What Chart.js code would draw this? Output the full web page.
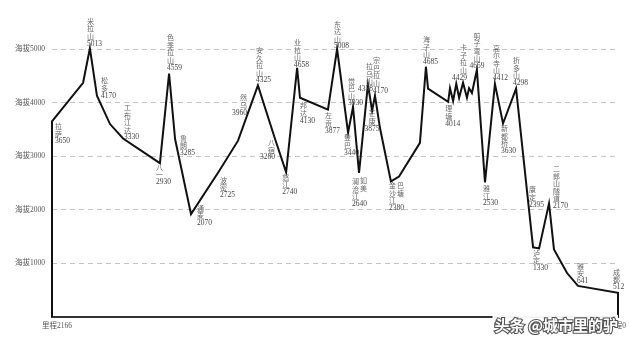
<!DOCTYPE html>
<html>
<head>
<meta charset="utf-8">
<script src="https://cdn.jsdelivr.net/npm/chart.js@4"></script>
<style>
html,body{margin:0;background:#fff}
#wrap{width:630px;height:343px}
</style>
</head>
<body>
<div id="wrap"><canvas id="c"></canvas></div>
<script>
// 318 profile, Lhasa (mileage 2166) -> Chengdu (0)
const mileage = [2166,2166,2047,2021,1994,1944,1894,1753,1718,1695,1634,1527,1454,1378,1313,1270,1228,1217,1110,1075,
  1033,1014,991,957,941,930,911,869,838,758,735,727,650,643,631,619,608,593,578,570,
  559,540,509,471,440,390,348,325,302,264,245,195,153,0,0];
const altitude = [0,3650,4370,5013,4130,3600,3330,2870,4540,3320,1920,2720,3290,4320,3330,2700,4650,4090,3870,5000,
  3440,3920,2690,4340,3850,4130,3530,2530,2620,3250,4670,4260,4015,4270,4030,4350,4090,4370,4090,4270,
  4180,4610,2510,4350,3610,4260,2340,1300,1280,2120,1260,820,580,450,0];

const yTicks = [1000,2000,3000,4000,5000];
const mileStart = 2166, mileEnd = 0;

const placeNames = ['拉萨','米拉山','松多','工布江达','八一','色季拉山','鲁朗','通麦','波密','然乌','安久拉山','八宿','怒江',
  '业拉山','邦达','左贡','东达山','登巴','觉巴山','澜沧江','如美','拉乌山','芒康','宗巴拉山','金沙江','巴塘',
  '海子山','理塘','卡子拉山','剪子弯山','雅江','高尔寺山','新都桥','折多山','康定','泸定','二郎山隧道','雅安','成都'];
const placeHeights = ['3650','5013','4170','3330','2930','4559','3285','2070','2725','3960','4325','3280','2740',
  '4658','4130','3877','5008','3440','3930','2640','','4338','3875','4170','2380','',
  '4685','4014','4429','4659','2530','4412','3630','4298','2395','1330','2170','641','512'];
// index of the profile vertex each name belongs to
const placeAt = [1,3,4,6,7,8,9,10,11,12,13,14,15,16,17,18,19,20,21,22,22,23,24,25,27,28,
  30,32,37,41,42,43,44,45,46,47,49,52,53];

// label layout: offset from the vertex in px, and alignment
const labelLayout = [[3,5],[-3,-27],[4,-15],[1,-31],[-4,4],[-2,-36],[5,-1],[6,-6],[1,9],[9,-43,'right'],[-2,-35],[0,4,'right'],[-4,5],
  [-3,-25],[0,8],[-3,6],[-3,-25],[-4,5],[-5,-26],[-7,9],[1,8],[5,-18,'right'],[0,3,'center'],[-2,-35],[-2,4],[-2,9],
  [-3,-27],[-3,7],[4,-35,'right'],[0,-34,'center'],[-2,6],[-2,-36],[-2,5],[-3,-28],[2,-2],[0,6],[4,-35],[-1,-20],[-5,-21]];

const cjkFont = "7px 'Noto Sans CJK SC'";
const numFont = "7.5px 'Liberation Serif'";
const lineStep = 7.5;

const labelPlugin = {
  id: 'places',
  afterDraw(chart){
    const {ctx, chartArea, scales:{x, y}} = chart;
    ctx.save();
    ctx.textBaseline = 'middle';
    placeNames.forEach((name, i)=>{
      const k = placeAt[i];
      const [dx, dy, al] = labelLayout[i];
      const px = x.getPixelForValue(mileage[k]) + dx;
      const py = y.getPixelForValue(altitude[k]) + dy;
      ctx.textAlign = al || 'left';
      const chars = [...name];
      ctx.font = cjkFont;
      ctx.fillStyle = '#666';
      chars.forEach((s, j)=> ctx.fillText(s, px, py + j*lineStep));
      if(placeHeights[i]){
        ctx.font = numFont;
        ctx.fillStyle = '#444';
        ctx.fillText(placeHeights[i], px, py + chars.length*lineStep);
      }
    });
    // ends of the mileage axis
    const by = chartArea.bottom + 9;
    ctx.font = "7.5px 'Liberation Serif','Noto Sans CJK SC'";
    ctx.fillStyle = '#555';
    ctx.textAlign = 'left';
    ctx.fillText('里程' + mileStart, x.getPixelForValue(mileStart) - 10, by);
    ctx.textAlign = 'right';
    ctx.fillText('里程' + mileEnd, x.getPixelForValue(mileEnd) + 8, by);

    // watermark
    const wm = '头条 @城市里的驴';
    ctx.font = "bold 15px 'Noto Sans CJK SC'";
    const w = ctx.measureText(wm).width;
    const wx = chartArea.right, wy = chartArea.bottom + 8;
    ctx.fillStyle = 'rgba(255,255,255,0.95)';
    ctx.fillRect(wx - w - 2, wy - 10, w + 2, 20);
    ctx.textAlign = 'right';
    ctx.lineWidth = 2.2;
    ctx.strokeStyle = '#555';
    ctx.strokeText(wm, wx, wy);
    ctx.fillStyle = '#fff';
    ctx.fillText(wm, wx, wy);
    ctx.restore();
  }
};

new Chart(document.getElementById('c'), {
  type: 'line',
  data: {
    datasets: [{
      data: mileage.map((m, i)=>({x: m, y: altitude[i]})),
      borderColor: '#111',
      borderWidth: 2,
      pointRadius: 0,
      tension: 0,
      fill: false,
      clip: false
    }]
  },
  options: {
    responsive: true,
    maintainAspectRatio: false,
    animation: false,
    layout: {padding: {top: 10, right: 12, left: 0, bottom: 0}},
    plugins: {legend: {display: false}, tooltip: {enabled: false}},
    scales: {
      x: {
        type: 'linear', reverse: true, min: mileEnd, max: mileStart,
        ticks: {display: false},
        grid: {display: false},
        border: {display: true, color: '#333', width: 2},
        afterFit: s => { s.height = 26; }
      },
      y: {
        min: 0, max: 5700,
        afterBuildTicks: s => { s.ticks = yTicks.map(v=>({value: v})); },
        ticks: {
          callback: v => '海拔' + v,
          color: '#555', padding: 7,
          font: {family: "'Liberation Serif','Noto Sans CJK SC'", size: 7.5}
        },
        grid: {color: '#c4c4c4', lineWidth: 1, drawTicks: false},
        border: {display: false, dash: [5, 4]},
        afterFit: s => { s.width = 52; }
      }
    }
  },
  plugins: [labelPlugin]
});
</script>
</body>
</html>
